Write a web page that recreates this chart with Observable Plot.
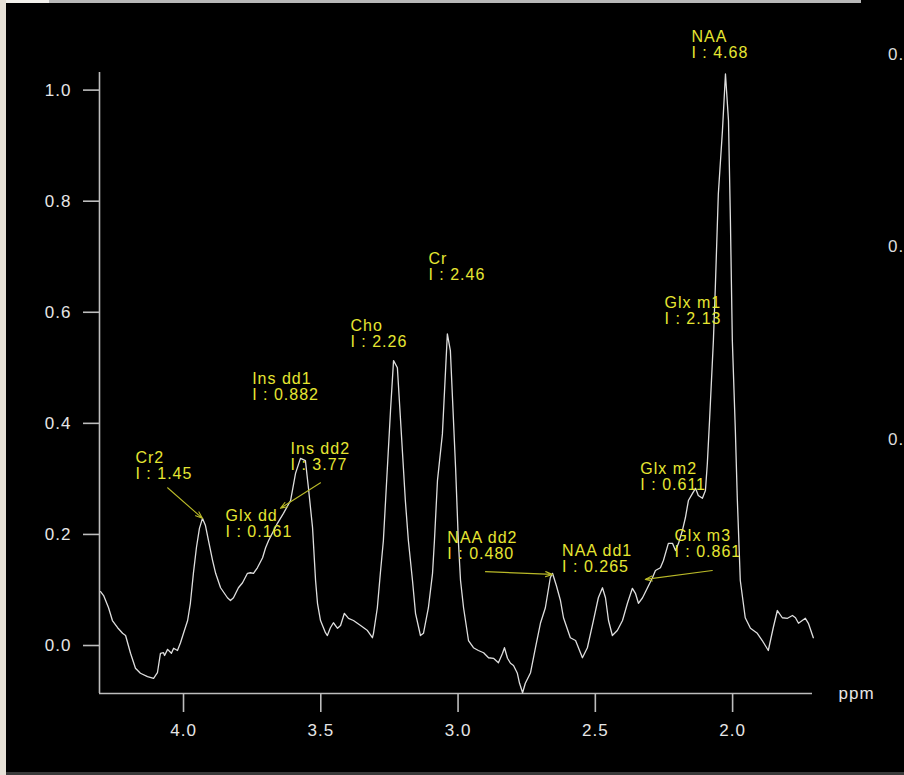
<!DOCTYPE html>
<html><head><meta charset="utf-8">
<script src="https://cdn.jsdelivr.net/npm/d3@7"></script>
<script src="https://cdn.jsdelivr.net/npm/@observablehq/plot@0.6"></script>
<style>
html,body{margin:0;padding:0;background:#000;width:904px;height:775px;overflow:hidden;}
#wrap{position:relative;width:904px;height:775px;background:#000;}
.deco{position:absolute;}
#chart{position:absolute;left:0;top:0;}
.side{position:absolute;left:888px;font:17px "Liberation Sans",Arial,sans-serif;line-height:17px;color:#dcdcdc;letter-spacing:1px;white-space:nowrap;}
</style></head><body>
<div id="wrap">
  <div id="chart"></div>
  <div class="deco" style="left:0;top:0;width:6px;height:775px;background:#e7e1d7"></div>
  <div class="deco" style="left:6px;top:0;width:43px;height:3px;background:#f2f0ec"></div>
  <div class="deco" style="left:49px;top:0;width:812px;height:3px;background:#b8b8b8"></div>
  <div class="deco" style="left:6px;top:772px;width:898px;height:3px;background:#3a3a3a"></div>
  <div class="side" style="top:46px">0.</div>
  <div class="side" style="top:238px">0.</div>
  <div class="side" style="top:431px">0.</div>
</div>
<script>
// Spectrum (chemical shift in ppm, signal intensity)
const ppm = [4.302,4.291,4.273,4.259,4.240,4.222,4.211,4.193,4.175,4.157,4.131,4.109,4.095,4.084,4.073,4.069,4.058,4.044,4.036,4.022,
4.011,4.000,3.985,3.975,3.964,3.953,3.942,3.931,3.920,3.909,3.894,3.883,3.865,3.840,3.829,3.818,3.800,3.785,3.767,3.756,
3.745,3.731,3.712,3.701,3.690,3.658,3.636,3.610,3.592,3.574,3.556,3.545,3.530,3.519,3.512,3.501,3.483,3.476,3.465,3.454,
3.439,3.428,3.414,3.399,3.381,3.355,3.330,3.312,3.308,3.294,3.283,3.272,3.264,3.246,3.235,3.221,3.210,3.192,3.181,3.166,
3.155,3.137,3.126,3.108,3.093,3.086,3.075,3.057,3.039,3.028,3.009,2.999,2.991,2.980,2.962,2.944,2.926,2.907,2.889,2.871,
2.853,2.838,2.831,2.820,2.809,2.798,2.784,2.776,2.765,2.755,2.736,2.718,2.700,2.682,2.664,2.656,2.642,2.627,2.616,2.591,
2.572,2.547,2.529,2.507,2.489,2.474,2.463,2.452,2.438,2.420,2.401,2.383,2.365,2.354,2.343,2.328,2.310,2.292,2.281,2.263,
2.252,2.234,2.219,2.208,2.197,2.183,2.172,2.161,2.146,2.135,2.125,2.110,2.099,2.092,2.084,2.070,2.063,2.052,2.037,2.026,
2.015,2.008,2.001,1.990,1.983,1.972,1.954,1.935,1.910,1.892,1.870,1.852,1.837,1.819,1.800,1.782,1.771,1.760,1.735,1.724,1.706];
const intensity = [0.097,0.090,0.068,0.045,0.032,0.022,0.018,-0.014,-0.041,-0.050,-0.056,-0.059,-0.049,-0.014,-0.013,-0.018,-0.007,-0.014,-0.005,-0.009,
0.005,0.022,0.045,0.076,0.130,0.176,0.211,0.229,0.216,0.189,0.153,0.130,0.104,0.086,0.081,0.086,0.104,0.113,0.130,0.131,
0.130,0.140,0.158,0.176,0.189,0.220,0.238,0.261,0.310,0.337,0.333,0.284,0.212,0.117,0.076,0.045,0.023,0.018,0.032,0.041,
0.031,0.036,0.058,0.049,0.045,0.036,0.027,0.014,0.022,0.068,0.130,0.189,0.261,0.423,0.513,0.500,0.410,0.261,0.189,0.117,
0.058,0.018,0.022,0.068,0.130,0.189,0.297,0.381,0.561,0.531,0.320,0.189,0.117,0.068,0.009,-0.004,-0.009,-0.013,-0.022,-0.023,
-0.031,-0.014,-0.004,-0.023,-0.032,-0.036,-0.050,-0.068,-0.085,-0.068,-0.049,-0.004,0.040,0.068,0.122,0.130,0.108,0.081,0.050,0.014,
0.009,-0.022,-0.004,0.045,0.086,0.104,0.086,0.045,0.018,0.027,0.045,0.076,0.103,0.094,0.076,0.086,0.104,0.122,0.135,0.140,
0.153,0.184,0.184,0.171,0.184,0.207,0.230,0.261,0.274,0.283,0.270,0.265,0.279,0.328,0.405,0.549,0.644,0.813,0.927,1.029,
0.945,0.765,0.549,0.387,0.266,0.117,0.050,0.031,0.022,0.009,-0.009,0.032,0.063,0.050,0.049,0.054,0.050,0.040,0.049,0.040,0.014];

// Peak annotations
const peakNames     = ["NAA","Cr","Cho","Ins dd1","Ins dd2","Cr2","Glx dd","Glx m1","Glx m2","Glx m3","NAA dd1","NAA dd2"];
const peakIntegrals = ["4.68","2.46","2.26","0.882","3.77","1.45","0.161","2.13","0.611","0.861","0.265","0.480"];
const labelPpm      = [2.150,3.108,3.392,3.750,3.610,4.175,3.847,2.248,2.336,2.212,2.621,3.039];
const labelValue    = [1.105,0.705,0.585,0.489,0.363,0.347,0.243,0.626,0.3275,0.207,0.180,0.204];

// Pointer arrows (from label to peak)
const arrowFromPpm   = [4.058,3.501,2.900,2.074];
const arrowFromValue = [0.284,0.293,0.133,0.135];
const arrowToPpm     = [3.931,3.647,2.656,2.318];
const arrowToValue   = [0.229,0.247,0.128,0.119];

// Axes
const xDomain = [4.306,1.709];
const yDomain = [-0.0864,1.0317];
const xTicks = [4.0,3.5,3.0,2.5,2.0];
const yTicks = [0.0,0.2,0.4,0.6,0.8,1.0];
const xLabel = "ppm";

const spectrum = ppm.map((p,i)=>({ppm:p, v:intensity[i]}));
const labels = peakNames.map((n,i)=>({x:labelPpm[i], y:labelValue[i], t:`${n}\nI : ${peakIntegrals[i]}`}));
const arrows = arrowFromPpm.map((p,i)=>({x1:p,y1:arrowFromValue[i],x2:arrowToPpm[i],y2:arrowToValue[i]}));

const axisColor = "#bdbdbd";
const font = "'Liberation Sans', Arial, sans-serif";

const chart = Plot.plot({
  width: 904, height: 775,
  marginLeft: 99, marginRight: 92, marginTop: 72, marginBottom: 82,
  style: {background:"transparent", color:"#e2e2e2", fontFamily: font, fontSize:"17px", letterSpacing:"1px", overflow:"visible"},
  x: {domain: xDomain, axis: null},
  y: {domain: yDomain, axis: null},
  marks: [
    Plot.ruleX([xDomain[0]], {y1: yDomain[0], y2: yDomain[1], stroke: axisColor, strokeWidth: 1.6}),
    Plot.ruleY([yDomain[0]], {x1: xDomain[0], x2: xDomain[1], stroke: axisColor, strokeWidth: 1.6}),
    Plot.axisY({ticks: yTicks, tickFormat: d3.format(".1f"), tickSize: 16, tickPadding: 12, stroke: axisColor, strokeWidth: 1.6, fill: "#e6e6e6", fontSize: 17, label: null}),
    Plot.axisX({ticks: xTicks, tickFormat: d3.format(".1f"), tickSize: 19, tickPadding: 11, stroke: axisColor, strokeWidth: 1.6, fill: "#e6e6e6", fontSize: 17, label: null}),
    Plot.text([xLabel], {x: xDomain[1], y: yDomain[0], text: d=>d, textAnchor:"start", dx: 26, dy: 0, fill:"#e6e6e6", fontSize: 17}),
    Plot.line(spectrum, {x:"ppm", y:"v", stroke:"#dedede", strokeWidth:1.3, curve:"linear"}),
    Plot.arrow(arrows, {x1:"x1", y1:"y1", x2:"x2", y2:"y2", stroke:"#b9b928", strokeWidth:1.1, headLength:10, headAngle:40}),
    Plot.text(labels, {x:"x", y:"y", text:"t", textAnchor:"start", lineAnchor:"top", lineHeight:1.0, fill:"#e6e632", fontSize:16, dy:-1})
  ]
});
document.getElementById("chart").appendChild(chart);
</script>
</body></html>
